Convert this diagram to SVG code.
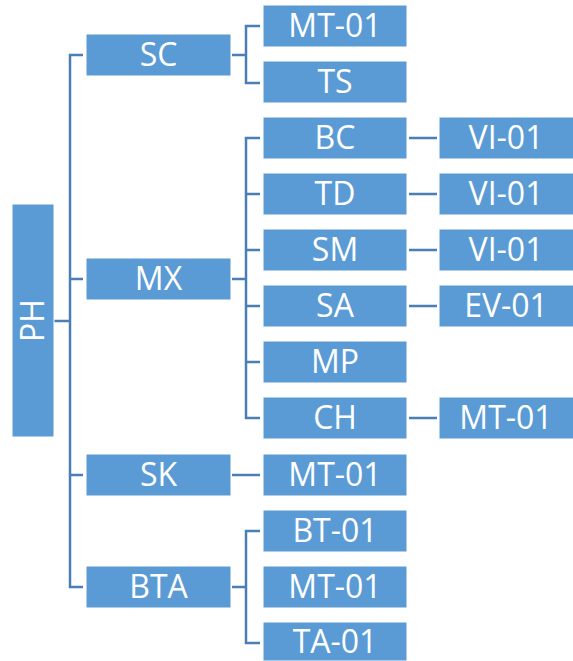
<svg xmlns="http://www.w3.org/2000/svg" width="573" height="661" viewBox="0 0 573 661">
<style>
.box{fill:#5b9bd5;stroke:#ffffff;stroke-width:1}
.t{font-family:"Open Sans","Liberation Sans",sans-serif;font-size:32px;fill:#ffffff;text-anchor:middle}
.c{fill:none;stroke:#4a7eb5;stroke-width:2.5}
</style>
<rect width="573" height="661" fill="#ffffff"/>
<g id="connectors" class="c">
<path d="M54 321H70M83 55H70V587H83M70 279H83M70 475H83"/>
<path d="M232 55H246M260 26H246V83H260"/>
<path d="M232 279H246M260 138H246V418H260M246 194H260M246 250H260M246 306H260M246 362H260"/>
<path d="M232 475H260"/>
<path d="M232 587H246M260 531H246V643H260"/>
<path d="M409 138H437M409 194H437M409 250H437M409 306H437M409 418H437"/>
</g>
<g id="PH"><rect class="box" x="12" y="204" width="42" height="233"/><text class="t" transform="translate(44 320.5) rotate(-90)">PH</text></g>
<g id="SC"><rect class="box" x="86" y="34" width="145" height="42"/><text class="t" x="158.5" y="66">SC</text></g>
<g id="MX"><rect class="box" x="86" y="258" width="145" height="42"/><text class="t" x="158.5" y="290">MX</text></g>
<g id="SK"><rect class="box" x="86" y="454" width="145" height="42"/><text class="t" x="158.5" y="486">SK</text></g>
<g id="BTA"><rect class="box" x="86" y="566" width="145" height="42"/><text class="t" x="158.5" y="598">BTA</text></g>
<g id="SC-MT01"><rect class="box" x="263" y="5" width="144" height="42"/><text class="t" x="335" y="37">MT-01</text></g>
<g id="TS"><rect class="box" x="263" y="61" width="144" height="42"/><text class="t" x="335" y="93">TS</text></g>
<g id="BC"><rect class="box" x="263" y="117" width="144" height="42"/><text class="t" x="335" y="149">BC</text></g>
<g id="TD"><rect class="box" x="263" y="173" width="144" height="42"/><text class="t" x="335" y="205">TD</text></g>
<g id="SM"><rect class="box" x="263" y="229" width="144" height="42"/><text class="t" x="335" y="261">SM</text></g>
<g id="SA"><rect class="box" x="263" y="285" width="144" height="42"/><text class="t" x="335" y="317">SA</text></g>
<g id="MP"><rect class="box" x="263" y="341" width="144" height="42"/><text class="t" x="335" y="373">MP</text></g>
<g id="CH"><rect class="box" x="263" y="397" width="144" height="42"/><text class="t" x="335" y="429">CH</text></g>
<g id="SK-MT01"><rect class="box" x="263" y="454" width="144" height="42"/><text class="t" x="335" y="486">MT-01</text></g>
<g id="BT01"><rect class="box" x="263" y="510" width="144" height="42"/><text class="t" x="335" y="542">BT-01</text></g>
<g id="BTA-MT01"><rect class="box" x="263" y="566" width="144" height="42"/><text class="t" x="335" y="598">MT-01</text></g>
<g id="TA01"><rect class="box" x="263" y="622" width="144" height="39"/><text class="t" x="335" y="653">TA-01</text></g>
<g id="BC-VI01"><rect class="box" x="439" y="117" width="135" height="42"/><text class="t" x="506" y="149">VI-01</text></g>
<g id="TD-VI01"><rect class="box" x="439" y="173" width="135" height="42"/><text class="t" x="506" y="205">VI-01</text></g>
<g id="SM-VI01"><rect class="box" x="439" y="229" width="135" height="42"/><text class="t" x="506" y="261">VI-01</text></g>
<g id="SA-EV01"><rect class="box" x="439" y="285" width="135" height="42"/><text class="t" x="506" y="317">EV-01</text></g>
<g id="CH-MT01"><rect class="box" x="439" y="397" width="135" height="42"/><text class="t" x="506" y="429">MT-01</text></g>
</svg>
